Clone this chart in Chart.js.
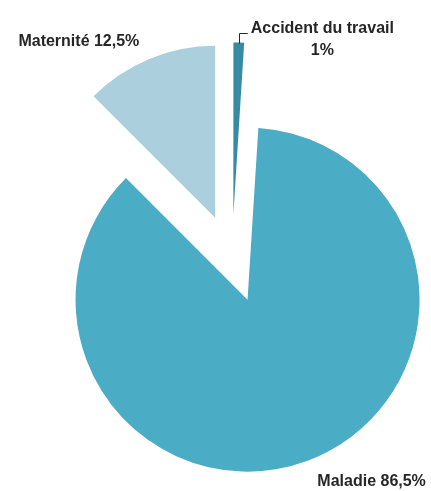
<!DOCTYPE html>
<html>
<head>
<meta charset="utf-8">
<script src="https://cdn.jsdelivr.net/npm/chart.js@4.4.1/dist/chart.umd.min.js"></script>
<style>
  html, body { margin: 0; padding: 0; background: #fff; }
  #wrap { width: 431px; height: 491px; }
</style>
</head>
<body>
<div id="wrap"><canvas id="graph"></canvas></div>
<script>
// Répartition des indemnités journalières par risque
const categories = ['Accident du travail', 'Maladie', 'Maternité'];
const shares = [1, 86.5, 12.5];
const shareLabels = ['1%', '86,5%', '12,5%'];
const sliceColors = ['#368BA2', '#4BACC6', '#ABCFDD'];

const EXPLODE = 44; // px each slice is pulled away from the centre

// pull every slice outward along its bisector once the library has laid it out
const explodeSlices = {
  id: 'explodeSlices',
  afterDatasetUpdate(chart, args) {
    args.meta.data.forEach(arc => {
      const mid = (arc.startAngle + arc.endAngle) / 2;
      arc.x += Math.cos(mid) * EXPLODE;
      arc.y += Math.sin(mid) * EXPLODE;
    });
  }
};

// label placement relative to the rim point on each slice's bisector
const labelSpots = [
  { dx: 12, dy: -14.5, leader: true },
  { dx: 9, dy: 21.5, align: 'left' },
  { dx: -10, dy: -17, align: 'right' }
];

const sliceLabels = {
  id: 'sliceLabels',
  afterDatasetsDraw(chart) {
    const ctx = chart.ctx;
    const arcs = chart.getDatasetMeta(0).data;
    ctx.save();
    ctx.font = 'bold 16px "Liberation Sans", Arial, sans-serif';
    ctx.fillStyle = '#262626';
    ctx.strokeStyle = '#262626';
    ctx.textBaseline = 'middle';
    arcs.forEach((arc, i) => {
      const mid = (arc.startAngle + arc.endAngle) / 2;
      const rimX = arc.x + Math.cos(mid) * arc.outerRadius;
      const rimY = arc.y + Math.sin(mid) * arc.outerRadius;
      const spot = labelSpots[i];
      const tx = rimX + spot.dx;
      const ty = rimY + spot.dy;
      if (spot.leader) {
        const lx = Math.round(rimX) + 0.5;
        const ly = Math.round(ty + 5) + 0.5;
        ctx.lineWidth = 1;
        ctx.beginPath();
        ctx.moveTo(lx, rimY + 1);
        ctx.lineTo(lx, ly);
        ctx.lineTo(tx - 3, ly);
        ctx.stroke();
        ctx.textAlign = 'left';
        ctx.fillText(categories[i], tx, ty);
        const w = ctx.measureText(categories[i]).width;
        ctx.textAlign = 'center';
        ctx.fillText(shareLabels[i], tx + w / 2, ty + 22);
      } else {
        ctx.textAlign = spot.align;
        ctx.fillText(categories[i] + ' ' + shareLabels[i], tx, ty);
      }
    });
    ctx.restore();
  }
};

const ctx = document.getElementById('graph');
const chart = new Chart(ctx, {
  type: 'pie',
  data: {
    labels: categories,
    datasets: [{
      data: shares,
      backgroundColor: sliceColors,
      borderWidth: 0,
      radius: 172
    }]
  },
  options: {
    responsive: true,
    maintainAspectRatio: false,
    animation: false,
    events: [],
    layout: { padding: { left: 33, top: 26 } },
    plugins: {
      legend: { display: false },
      tooltip: { enabled: false }
    }
  },
  plugins: [explodeSlices, sliceLabels]
});
</script>
</body>
</html>
